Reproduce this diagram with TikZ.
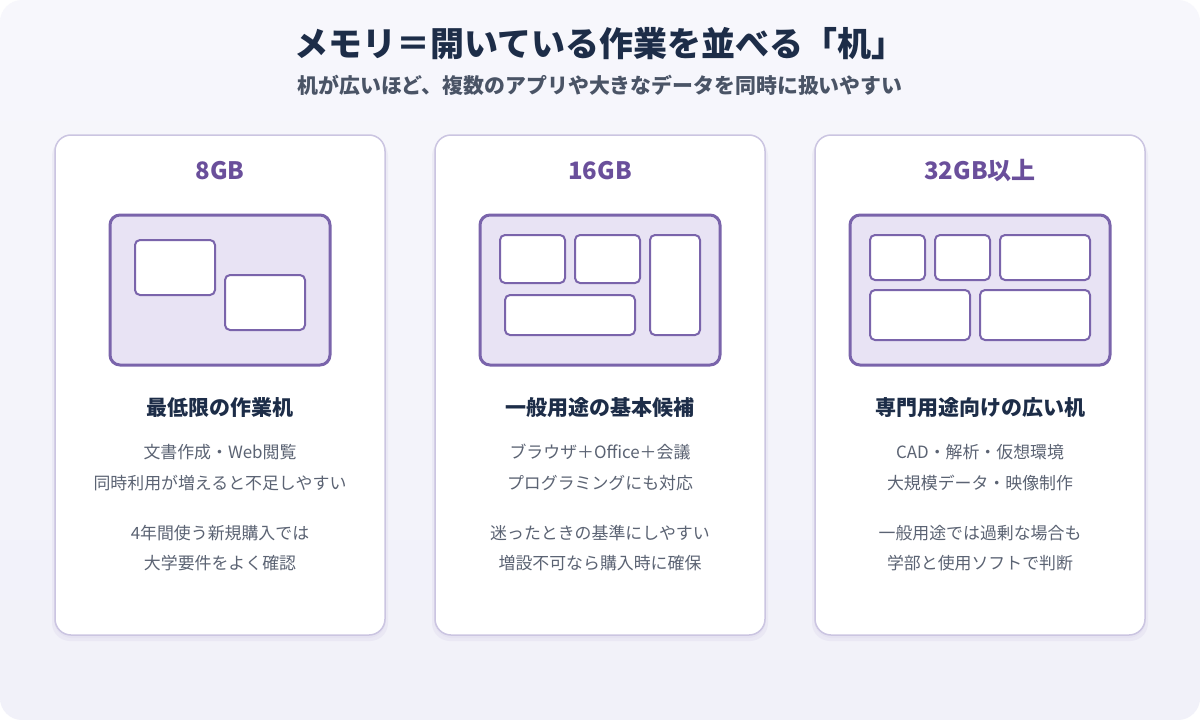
\documentclass[tikz,border=0pt]{standalone}
\usepackage{fontspec}
\setmainfont{Noto Sans CJK JP}
\definecolor{bgA}{HTML}{F7F7FC}
\definecolor{bgB}{HTML}{F1F1F9}
\definecolor{cardline}{HTML}{CBC5E1}
\definecolor{navy}{HTML}{1D2D48}
\definecolor{subgray}{HTML}{4A5466}
\definecolor{bodygray}{HTML}{5B6373}
\definecolor{purp}{HTML}{6A4F9B}
\definecolor{deskfill}{HTML}{E8E3F4}
\definecolor{deskline}{HTML}{7A64AB}
\definecolor{shadowc}{HTML}{DCD8EC}
\begin{document}
\begin{tikzpicture}[x=1pt,y=-1pt,
  card/.style={draw=cardline,line width=1.5pt,fill=white,rounded corners=16pt},
  cardshadow/.style={fill=shadowc,rounded corners=18pt,opacity=0.35},
  desk/.style={draw=deskline,line width=3pt,fill=deskfill,rounded corners=10pt},
  win/.style={draw=deskline,line width=2pt,fill=white,rounded corners=5pt},
  gb/.style={font=\fontsize{24pt}{28pt}\selectfont\bfseries,text=purp,inner sep=0pt},
  ctitle/.style={font=\fontsize{21pt}{25pt}\selectfont\bfseries,text=navy,inner sep=0pt},
  body/.style={font=\fontsize{16.9pt}{20pt}\selectfont,text=bodygray,inner sep=0pt}]
\useasboundingbox (0,0) rectangle (1200,720);
\fill[white] (0,0) rectangle (1200,720);
\shade[top color=bgA,bottom color=bgB,rounded corners=22pt] (0,0) rectangle (1200,720);
% title
\node[font=\fontsize{34pt}{40pt}\selectfont\bfseries,text=navy,inner sep=0pt] (title) at (600,44) {メモリ＝開いている作業を並べる「机」};
\node[font=\fontsize{20.9pt}{25pt}\selectfont\bfseries,text=subgray,inner sep=0pt] (subtitle) at (600,85) {机が広いほど、複数のアプリや大きなデータを同時に扱いやすい};
% cards
\foreach \x in {55,435,815}{
  \fill[cardshadow] (\x-3,138) rectangle (\x+333,641);
  \fill[cardshadow] (\x-1,137) rectangle (\x+331,638);
}
\draw[card] (55,135) rectangle (385,635);
\draw[card] (435,135) rectangle (765,635);
\draw[card] (815,135) rectangle (1145,635);
% headings
\node[gb] (gb1) at (220,171) {8GB};
\node[gb] (gb2) at (600,171) {16GB};
\node[gb] (gb3) at (980,171) {32GB以上};
% desk 1
\draw[desk] (110,215) rectangle (330,365);
\draw[win] (135,240) rectangle (215,295);
\draw[win] (225,275) rectangle (305,330);
% desk 2
\draw[desk] (480,215) rectangle (720,365);
\draw[win] (500,235) rectangle (565,283);
\draw[win] (575,235) rectangle (640,283);
\draw[win] (650,235) rectangle (700,335);
\draw[win] (505,295) rectangle (635,335);
% desk 3
\draw[desk] (850,215) rectangle (1110,365);
\draw[win] (870,235) rectangle (925,280);
\draw[win] (935,235) rectangle (990,280);
\draw[win] (1000,235) rectangle (1090,280);
\draw[win] (870,290) rectangle (970,340);
\draw[win] (980,290) rectangle (1090,340);
% card texts
\node[ctitle] (t1) at (220,408) {最低限の作業机};
\node[ctitle] (t2) at (600,408) {一般用途の基本候補};
\node[ctitle] (t3) at (980,408) {専門用途向けの広い机};
\node[body] (a1) at (220,452) {文書作成・Web閲覧};
\node[body] (b1) at (220,483) {同時利用が増えると不足しやすい};
\node[body] (d1) at (220,533) {4年間使う新規購入では};
\node[body] (e1) at (220,563) {大学要件をよく確認};
\node[body] (a2) at (600,452) {ブラウザ＋Office＋会議};
\node[body] (b2) at (600,483) {プログラミングにも対応};
\node[body] (d2) at (600,533) {迷ったときの基準にしやすい};
\node[body] (e2) at (600,563) {増設不可なら購入時に確保};
\node[body] (a3) at (980,452) {CAD・解析・仮想環境};
\node[body] (b3) at (980,483) {大規模データ・映像制作};
\node[body] (d3) at (980,533) {一般用途では過剰な場合も};
\node[body] (e3) at (980,563) {学部と使用ソフトで判断};
\end{tikzpicture}
\end{document}
